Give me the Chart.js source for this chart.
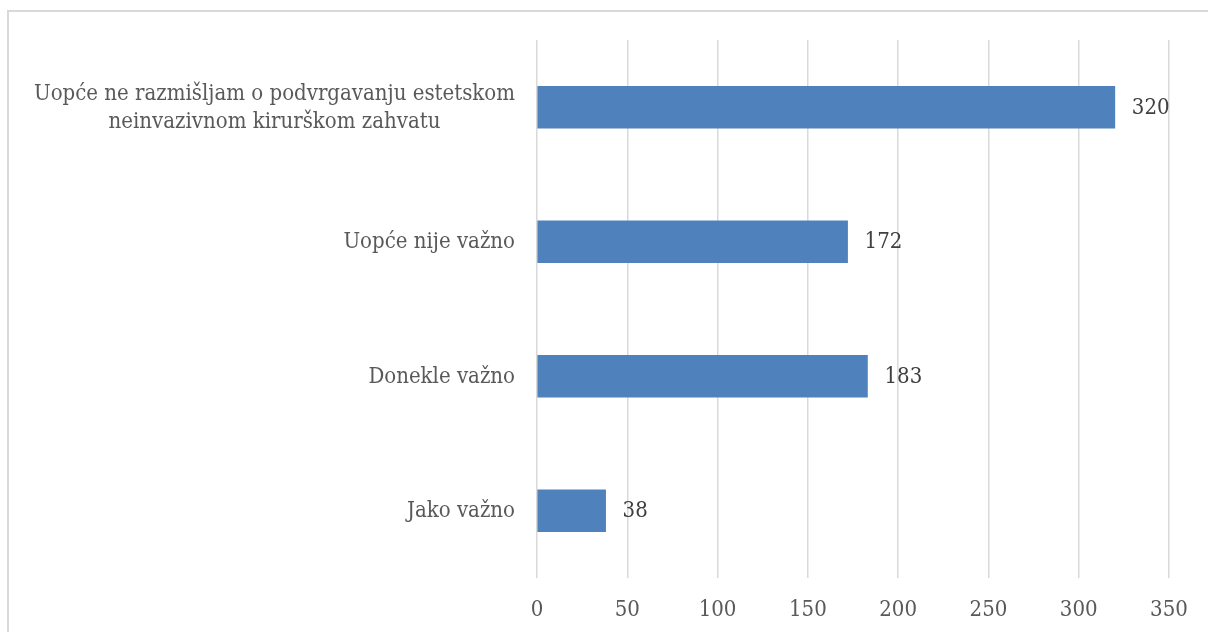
<!DOCTYPE html>
<html>
<head>
<meta charset="utf-8">
<script src="https://cdn.jsdelivr.net/npm/chart.js@4/dist/chart.umd.min.js"></script>
<style>
html,body{margin:0;padding:0;background:#fff;overflow:hidden;}
#frame{position:absolute;left:7px;top:10px;width:1220px;height:640px;border:2px solid #d9d9d9;box-sizing:border-box;}
#wrap{position:absolute;left:0;top:0;width:1208px;height:632px;}
</style>
</head>
<body>
<div id="frame"></div>
<div id="wrap"><canvas id="c" width="1208" height="632"></canvas></div>
<script>
const categories = [
  ["Uopće ne razmišljam o podvrgavanju estetskom", "neinvazivnom kirurškom zahvatu"],
  "Uopće nije važno",
  "Donekle važno",
  "Jako važno"
];
const values = [320, 172, 183, 38];
const tickValues = [0, 50, 100, 150, 200, 250, 300, 350];

const FONT = "'DejaVu Serif Condensed', 'DejaVu Serif', serif";
const FS = 22;

const customLabels = {
  id: 'customLabels',
  afterDatasetsDraw(chart) {
    const ctx = chart.ctx;
    const meta = chart.getDatasetMeta(0);
    const yScale = chart.scales.y;
    ctx.save();
    ctx.font = FS + "px " + FONT;
    ctx.textBaseline = 'middle';
    // value labels
    ctx.fillStyle = '#404040';
    ctx.textAlign = 'left';
    meta.data.forEach((bar, i) => {
      ctx.fillText(String(values[i]), bar.x + 17, bar.y + 1);
    });
    // category labels (lines centered on each other, block right-aligned)
    ctx.fillStyle = '#595959';
    ctx.textAlign = 'center';
    const rightEdge = chart.chartArea.left - 22;
    const lh = 28;
    categories.forEach((lab, i) => {
      const lines = Array.isArray(lab) ? lab : [lab];
      const maxW = Math.max(...lines.map(l => ctx.measureText(l).width));
      const cx = rightEdge - maxW / 2;
      const cy = yScale.getPixelForValue(i);
      const y0 = cy - (lines.length - 1) * lh / 2;
      lines.forEach((l, k) => ctx.fillText(l, cx, y0 + k * lh + 1));
    });
    ctx.restore();
  }
};

new Chart(document.getElementById('c'), {
  type: 'bar',
  data: {
    labels: categories,
    datasets: [{
      data: values,
      backgroundColor: '#4f81bd',
      borderWidth: 0,
      barThickness: 42
    }]
  },
  options: {
    indexAxis: 'y',
    responsive: false,
    animation: false,
    events: [],
    layout: { padding: { top: 40, right: 39, left: 0, bottom: 0 } },
    plugins: { legend: { display: false }, tooltip: { enabled: false } },
    scales: {
      x: {
        min: 0, max: 350,
        afterBuildTicks(axis) { axis.ticks = tickValues.map(v => ({ value: v })); },
        grid: { color: '#d9d9d9', lineWidth: 1.5, drawTicks: false },
        border: { display: false },
        ticks: { color: '#595959', font: { family: FONT, size: FS }, padding: 19 },
        afterFit(axis) { axis.height = 54; }
      },
      y: {
        grid: { display: false, drawTicks: false },
        border: { display: false },
        ticks: { display: false },
        afterFit(axis) { axis.width = 537; }
      }
    }
  },
  plugins: [customLabels]
});
</script>
</body>
</html>
